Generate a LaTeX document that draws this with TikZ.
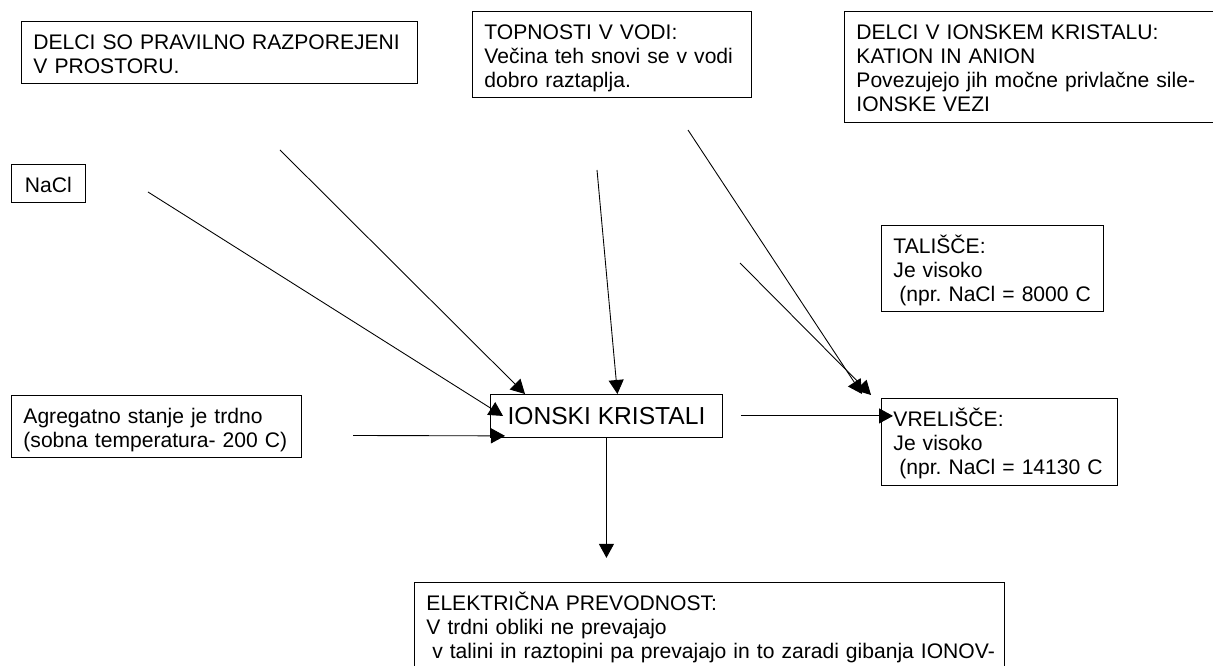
\documentclass[tikz,border=0pt]{standalone}
\usepackage{fontspec}
\setmainfont{Liberation Sans}
\usepackage{tikz}
\usetikzlibrary{arrows.meta, calc, positioning}
\tikzstyle{arrow} = [line width=0.5pt, -{Triangle[length=0.28cm, width=0.3cm]}]
\tikzstyle{infobox} = [draw, line width=0.5pt, anchor=north west, align=left, inner xsep=0.24cm, inner ysep=0pt, text height=0.56cm, font=\fontsize{12}{13.6}\selectfont\frenchspacing]

\begin{document}
\begin{tikzpicture}
    \useasboundingbox (0,0) rectangle (24.26,-13.32);
    \clip (0,0) rectangle (24.26,-13.32);
    % text boxes
    \node[infobox, text width=7.44cm, text depth=0.68cm] (razpored) at (0.42,-0.42) {DELCI SO PRAVILNO RAZPOREJENI\\V PROSTORU.};
    \node[infobox, text width=5.10cm, text depth=1.16cm] (topnost) at (9.44,-0.22) {TOPNOSTI V VODI:\\Večina teh snovi se v vodi\\dobro raztaplja.};
    \node[infobox, text width=7.40cm, text depth=1.66cm] (delci) at (16.88,-0.22) {DELCI V IONSKEM KRISTALU:\\KATION IN ANION\\Povezujejo jih močne privlačne sile-\\IONSKE VEZI};
    \node[infobox, inner xsep=0.27cm, text depth=0.20cm] (nacl) at (0.22,-3.28) {NaCl};
    \node[infobox, text width=3.96cm, text depth=1.16cm] (tal) at (17.62,-4.50) {TALIŠČE:\\Je visoko\\\mbox{\hspace*{0.278em}(npr. NaCl = 8000 C}};
    \node[infobox, text width=5.32cm, text depth=0.68cm] (agr) at (0.22,-7.90) {Agregatno stanje je trdno\\(sobna temperatura- 200 C)};
    \node[infobox, text width=4.24cm, text depth=1.18cm] (vre) at (17.62,-7.96) {VRELIŠČE:\\Je visoko\\\mbox{\hspace*{0.278em}(npr. NaCl = 14130 C}};
    \node[infobox, text width=11.32cm, text depth=2.00cm] (elek) at (8.28,-11.64) {ELEKTRIČNA PREVODNOST:\\V trdni obliki ne prevajajo\\\mbox{\hspace*{0.278em}v talini in raztopini pa prevajajo in to zaradi gibanja IONOV-}};
    % centre
    \node[draw, line width=0.5pt, anchor=north west, minimum width=4.64cm, minimum height=0.86cm, inner sep=0pt, font=\fontsize{14}{16}\selectfont] (ion) at (9.80,-7.88) {IONSKI KRISTALI};
    % free ends of the arrows
    \coordinate (tailA) at (5.60,-3.00);
    \coordinate (tailB) at (2.96,-3.84);
    \coordinate (tailC) at (7.06,-8.71);
    \coordinate (tailD) at (11.94,-3.40);
    \coordinate (tailG) at (13.76,-2.60);
    \coordinate (tailH) at (14.80,-5.26);
    % arrows
    \draw[arrow] (tailA) -- ([xshift=0.70cm]ion.north west);
    \draw[arrow] (tailB) -- ([xshift=0.26cm]ion.west);
    \draw[arrow] (tailC) -- ([xshift=0.30cm, yshift=0.04cm]ion.south west);
    \draw[arrow] (tailD) -- ([xshift=0.22cm]ion.north);
    \draw[arrow] (ion.south) -- ++(0,-2.40);
    \draw[arrow] ([xshift=0.36cm]ion.east) -- ($(vre.west |- ion.east)+(0.24,0)$);
    \draw[arrow] (tailG) -- ($(vre.north west)+(-0.38,0.08)$);
    \draw[arrow] (tailH) -- ($(vre.north west)+(-0.20,0.06)$);
\end{tikzpicture}
\end{document}
